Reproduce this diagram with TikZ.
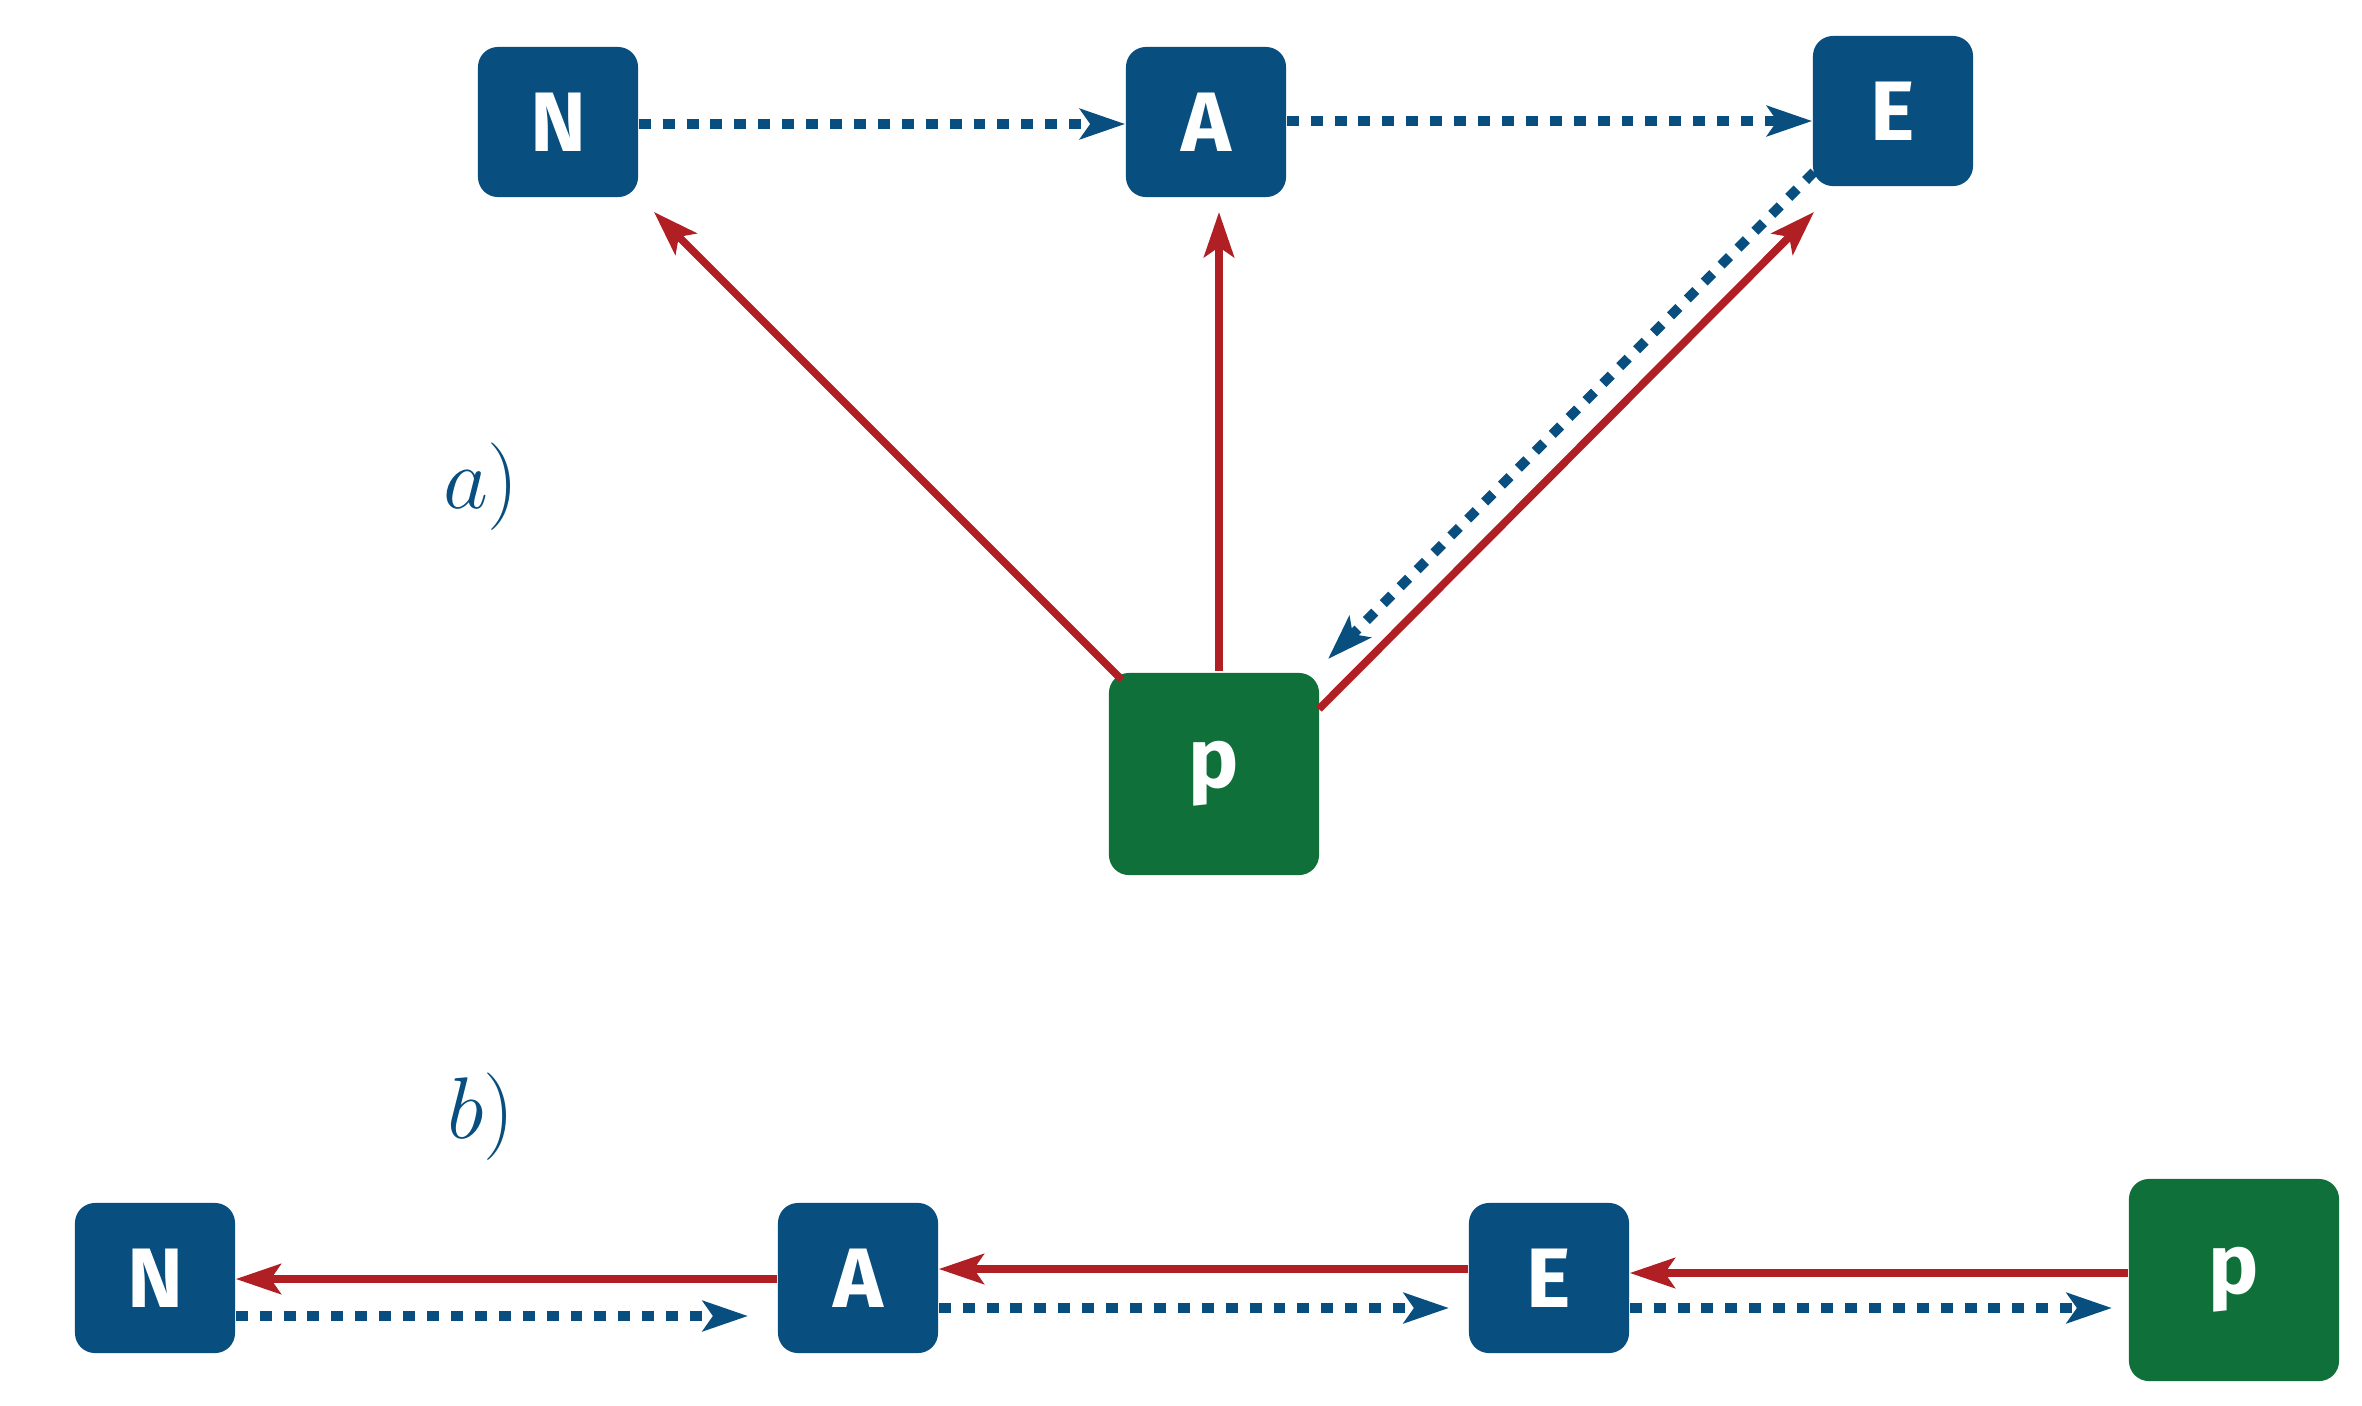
\documentclass[tikz,border=0pt]{standalone}
\usepackage{fontspec}
\newfontfamily\boxfont{Fira Sans}
\usetikzlibrary{arrows.meta}
\definecolor{cblue}{HTML}{084E7E}
\definecolor{cred}{HTML}{B01F24}
\definecolor{cgreen}{HTML}{0F7139}
\begin{document}
\begin{tikzpicture}[x=0.01cm,y=-0.01cm,
  box/.style={rounded corners=0.2cm,fill=cblue,text=white,inner sep=0,font=\boxfont\bfseries\fontsize{24}{24}\selectfont},
  sm/.style={box,minimum width=1.6cm,minimum height=1.5cm},
  bg/.style={box,fill=cgreen,minimum width=2.1cm,minimum height=2.02cm},
  red/.style={draw=cred,line width=2.2pt,-{Stealth[length=0.45cm,width=0.3cm,inset=0.1cm]}},
  blu/.style={draw=cblue,line width=2.8pt,dash pattern=on 3.4pt off 3.4pt,-{Stealth[length=0.45cm,width=0.3cm,inset=0.1cm]}},
  lab/.style={text=cblue,font=\fontsize{30}{30}\selectfont}]
\useasboundingbox (0,0) rectangle (2362,1405);
% a
\node[sm] (N) at (558,122) {N};
\node[sm] (A) at (1206,122) {A};
\node[sm] (E) at (1893,111) {E};
\node[bg] (P) at (1214,774) {p};
\node[lab] (la) at (481,487) {$a)$};
\coordinate (pn) at (1122,680); \coordinate (nn) at (654,212);
\coordinate (pa) at (1219,671); \coordinate (aa) at (1219,212);
\coordinate (pe) at (1319,709); \coordinate (ee) at (1814,212);
\coordinate (es) at (1814,172); \coordinate (pt) at (1328,659);
\draw[red] (pn) -- (nn);
\draw[red] (pa) -- (aa);
\draw[red] (pe) -- (ee);
\draw[blu] (es) -- (pt);
\draw[blu] (N.east |- 0,124) -- (A.west |- 0,124);
\draw[blu] (A.east |- 0,121) -- (E.west |- 0,121);
% b
\node[lab] (lb) at (481,1117) {$b)$};
\node[sm] (N2) at (155,1278) {N};
\node[sm] (A2) at (858,1278) {A};
\node[sm] (E2) at (1549,1278) {E};
\node[bg] (P2) at (2234,1280) {p};
\draw[red] (A2.west |- 0,1279) -- (N2.east |- 0,1279);
\draw[red] (E2.west |- 0,1269) -- (A2.east |- 0,1269);
\draw[red] (P2.west |- 0,1273) -- (E2.east |- 0,1273);
\draw[blu] (N2.east |- 0,1316) -- (748,1316);
\draw[blu] (A2.east |- 0,1308) -- (1449,1308);
\draw[blu] (E2.east |- 0,1308) -- (2112,1308);
\end{tikzpicture}
\end{document}
